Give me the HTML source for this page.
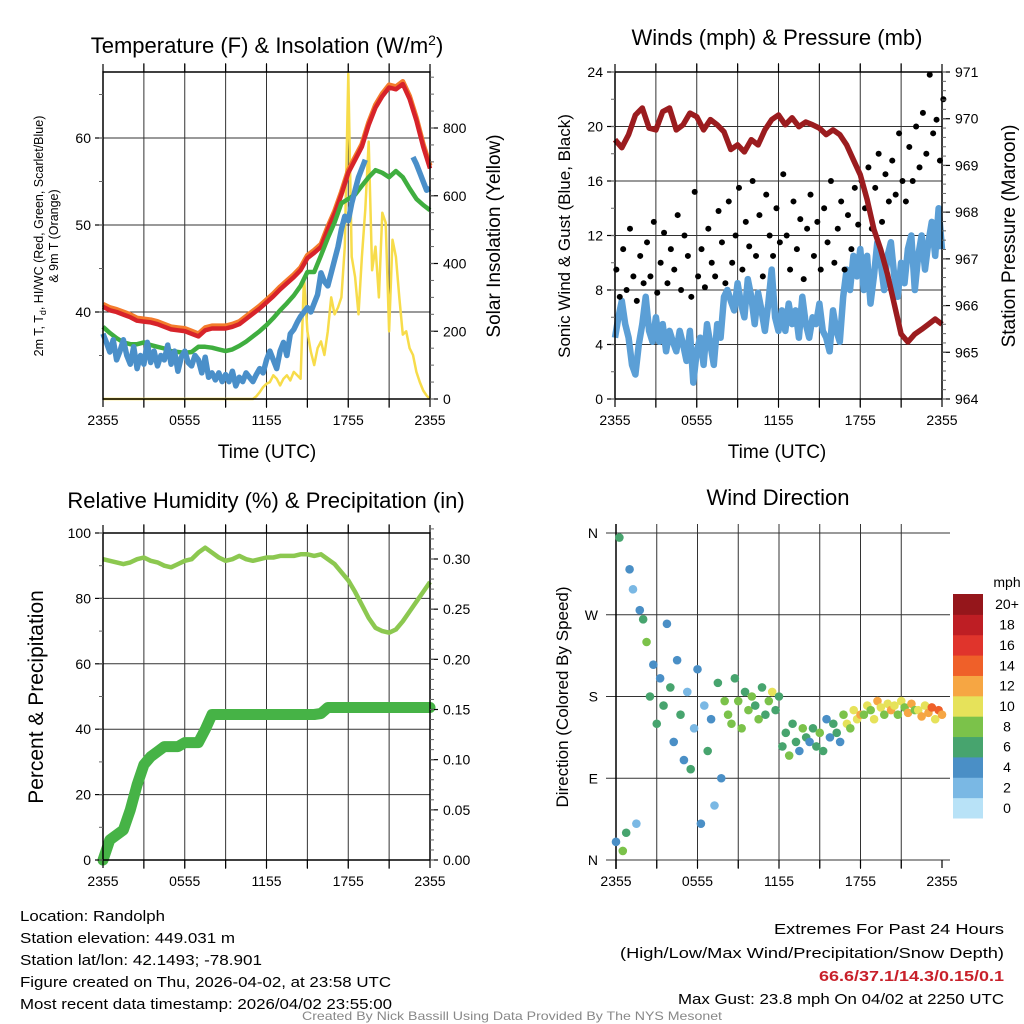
<!DOCTYPE html>
<html><head><meta charset="utf-8">
<style>
html,body{margin:0;padding:0;background:#fff;}
svg{display:block;font-family:"Liberation Sans",sans-serif;}
</style></head>
<body>
<svg id="chart" width="1024" height="1024" viewBox="0 0 1024 1024" xmlns="http://www.w3.org/2000/svg">
<rect width="1024" height="1024" fill="#fff"/>
<g id="layer"></g>
<text x="267" y="53" font-size="22" text-anchor="middle">Temperature (F) &amp; Insolation (W/m<tspan dy="-8" font-size="14">2</tspan><tspan dy="8">)</tspan></text>
<text x="777" y="45" font-size="22" text-anchor="middle">Winds (mph) &amp; Pressure (mb)</text>
<text x="266" y="508" font-size="22" text-anchor="middle">Relative Humidity (%) &amp; Precipitation (in)</text>
<text x="778" y="505" font-size="22" text-anchor="middle">Wind Direction</text>
<text transform="translate(43,236) rotate(-90)" font-size="12.5" text-anchor="middle">2m T, T<tspan font-size="9" dy="3">d</tspan><tspan dy="-3">, HI/WC (Red, Green, Scarlet/Blue)</tspan></text>
<text transform="translate(58,236) rotate(-90)" font-size="12.5" text-anchor="middle">&amp; 9m T (Orange)</text>
<text transform="translate(500,236) rotate(-90)" font-size="19" text-anchor="middle">Solar Insolation (Yellow)</text>
<text x="267" y="458" font-size="19" text-anchor="middle">Time (UTC)</text>
<text transform="translate(570,236) rotate(-90)" font-size="17" text-anchor="middle">Sonic Wind &amp; Gust (Blue, Black)</text>
<text transform="translate(1015,236) rotate(-90)" font-size="19" text-anchor="middle">Station Pressure (Maroon)</text>
<text x="777" y="458" font-size="19" text-anchor="middle">Time (UTC)</text>
<text transform="translate(43,697) rotate(-90)" font-size="21" text-anchor="middle">Percent &amp; Precipitation</text>
<text transform="translate(568,697) rotate(-90)" font-size="17" text-anchor="middle">Direction (Colored By Speed)</text>
<g font-size="15">
<text x="20" y="921" textLength="145" lengthAdjust="spacingAndGlyphs">Location: Randolph</text>
<text x="20" y="943" textLength="215" lengthAdjust="spacingAndGlyphs">Station elevation: 449.031 m</text>
<text x="20" y="965" textLength="242" lengthAdjust="spacingAndGlyphs">Station lat/lon: 42.1493; -78.901</text>
<text x="20" y="987" textLength="371" lengthAdjust="spacingAndGlyphs">Figure created on Thu, 2026-04-02, at 23:58 UTC</text>
<text x="20" y="1009" textLength="372" lengthAdjust="spacingAndGlyphs">Most recent data timestamp: 2026/04/02 23:55:00</text>
</g>
<g font-size="15" text-anchor="end">
<text x="1004" y="934" textLength="230" lengthAdjust="spacingAndGlyphs">Extremes For Past 24 Hours</text>
<text x="1004" y="958" textLength="384" lengthAdjust="spacingAndGlyphs">(High/Low/Max Wind/Precipitation/Snow Depth)</text>
<text x="1004" y="981" fill="#c8202a" font-weight="bold" textLength="185" lengthAdjust="spacingAndGlyphs">66.6/37.1/14.3/0.15/0.1</text>
<text x="1004" y="1004" textLength="326" lengthAdjust="spacingAndGlyphs">Max Gust: 23.8 mph On 04/02 at 2250 UTC</text>
</g>
<text x="512" y="1020" font-size="12" fill="#888" text-anchor="middle" textLength="420" lengthAdjust="spacingAndGlyphs">Created By Nick Bassill Using Data Provided By The NYS Mesonet</text>
</svg>
<script>
const timeLabels = ["2355","0555","1155","1755","2355"];
const tempRed = [40.6,40.2,40.0,39.7,39.4,39.0,38.9,38.8,38.6,38.3,38.0,37.9,37.8,37.5,37.2,37.9,38.1,38.1,38.1,38.3,38.6,39.2,39.8,40.4,41.1,41.8,42.6,43.3,44.0,44.8,46.2,46.8,47.5,49.5,51.3,53.5,56.0,57.5,59.0,61.5,63.5,64.8,65.8,65.6,66.2,64.5,62.0,59.0,56.5];
const tempOrange = [40.9,40.5,40.3,40.0,39.7,39.3,39.2,39.1,38.9,38.6,38.3,38.2,38.1,37.8,37.5,38.2,38.4,38.4,38.4,38.6,38.9,39.5,40.1,40.7,41.4,42.1,42.9,43.6,44.3,45.1,46.5,47.1,47.8,49.8,51.6,53.8,56.3,57.8,59.3,61.8,63.8,65.1,66.1,65.9,66.5,64.8,62.3,59.3,56.8];
const dewGreen = [38.3,37.6,37.0,36.5,36.3,36.3,36.5,36.2,36.0,35.8,35.5,35.4,35.3,35.4,36.0,36.0,35.9,35.7,35.5,35.7,36.1,36.6,37.2,37.8,38.5,39.3,40.2,41.0,41.9,43.0,44.6,44.6,46.5,48.5,50.3,52.5,53.0,53.5,54.5,55.5,56.3,56.0,55.5,56.2,55.5,54.2,53.0,52.3,51.7];
const windChill = [37.5,36.5,35.4,36.8,34.5,35.5,36.8,35.0,34.0,36.0,33.5,35.0,34.0,36.5,34.2,35.5,33.8,35.0,34.5,36.2,34.0,35.5,33.2,34.8,35.5,34.2,33.8,35.0,34.5,33.0,34.8,32.5,33.0,32.2,33.0,32.0,32.8,32.0,33.2,31.5,32.5,32.0,33.0,32.5,32.0,32.8,33.5,33.0,34.5,35.5,34.5,33.5,35.5,36.5,35.0,37.5,38.0,38.8,39.5,40.0,40.5,40.0,41.0,42.0,44.5,43.5,43.0,44.5,46.0,47.5,49.5,51.0,50.5,52.5,54.0,55.5,56.5,57.5,null,null,null,null,null,null,null,null,null,null,null,null,null,57.8,57.0,56.0,55.0,54.0,54.2];
const insolation = [0,0,0,0,0,0,0,0,0,0,0,0,0,0,0,0,0,0,0,0,0,0,0,0,0,0,0,0,0,0,0,0,0,0,0,0,0,0,0,0,0,0,0,0,0,8,20,35,45,50,70,60,40,60,70,55,80,70,60,360,200,140,100,150,170,130,200,300,250,270,300,450,960,420,360,250,420,560,760,380,450,300,550,520,200,470,420,300,190,200,150,130,80,50,25,10,0];
const tempTicks = [40,50,60];
const insolTicks = [0,200,400,600,800];
const windSpeed = [4.5,6.0,7.2,5.5,4.5,2.5,1.8,4.0,5.5,7.5,5.0,4.2,6.0,4.2,5.5,3.5,5.0,4.2,3.5,5.0,4.0,2.8,5.0,1.2,3.5,4.5,2.5,5.5,4.0,2.5,5.5,4.5,7.5,8.0,7.2,6.5,8.5,7.0,6.0,8.8,7.5,5.5,7.8,6.5,5.0,7.0,9.5,6.0,5.0,6.5,5.0,7.0,5.5,6.5,4.5,7.5,5.5,4.5,6.0,5.5,7.0,5.0,4.5,3.5,6.5,5.0,4.2,7.5,9.5,8.0,10.5,9.0,11.0,8.0,10.5,7.0,9.0,11.5,10.0,8.0,10.5,11.5,9.0,7.5,10.0,8.5,11.0,12.0,8.0,10.5,12.0,9.5,11.5,13.0,10.5,14.0,11.0];
const windGust = [9.5,7.5,11.0,8.0,12.5,9.0,7.2,10.5,8.5,11.5,9.0,13.0,7.8,10.0,12.2,8.5,11.0,9.5,13.5,8.0,12.0,10.5,7.5,15.2,9.0,11.0,8.2,12.5,10.0,9.0,13.8,11.5,8.5,14.5,10.0,12.0,15.5,9.5,13.0,11.2,16.0,10.5,13.5,9.0,15.0,12.0,10.5,14.0,11.5,16.5,12.0,9.5,14.5,11.0,13.2,8.8,12.5,15.0,10.5,13.0,9.5,14.0,11.5,16.0,10.0,12.5,14.5,9.5,13.5,11.0,15.5,12.8,16.0,14.0,17.0,12.5,15.5,18.0,13.0,16.5,14.5,17.5,15.0,19.5,16.0,14.5,18.5,16.0,20.0,17.0,21.0,18.0,23.8,19.5,20.5,17.5,22.0];
const pressure = [969.55,969.38,969.66,970.08,970.23,969.80,969.76,970.15,970.23,969.76,969.87,970.12,970.04,969.76,969.98,969.87,969.72,969.34,969.44,969.29,969.55,969.44,969.76,969.98,970.08,969.87,970.02,969.83,969.93,969.87,969.80,969.66,969.76,969.66,969.44,969.12,968.80,968.27,967.63,967.20,966.67,966.03,965.39,965.22,965.39,965.49,965.60,965.71,965.60];
const windTicks = [0,4,8,12,16,20,24];
const pressTicks = [964,965,966,967,968,969,970,971];
const relHum = [92,91.5,91,90.5,91,92,92.5,91.5,91,90,89.5,90.5,91.5,92,94,95.5,94,92.5,91.5,92,93,92,91.5,92,92.5,92.5,93,93,93,93.5,93.5,93,93.5,92,90.5,88,85.5,82,78,74,71,70,69.5,70.5,73,76,79,82,85];
const precip = [0,0.02,0.025,0.03,0.05,0.075,0.095,0.103,0.108,0.113,0.113,0.113,0.117,0.117,0.117,0.13,0.145,0.145,0.145,0.145,0.145,0.145,0.145,0.145,0.145,0.145,0.145,0.145,0.145,0.145,0.145,0.145,0.146,0.152,0.152,0.152,0.152,0.152,0.152,0.152,0.152,0.152,0.152,0.152,0.152,0.152,0.152,0.152,0.152];
const rhTicks = [0,20,40,60,80,100];
const precipTicks = [0,0.05,0.10,0.15,0.20,0.25,0.30];
const windDir = [20,355,10,30,320,298,40,275,265,240,180,215,150,200,170,260,190,130,220,160,110,185,100,145,210,40,170,120,155,60,195,90,175,160,150,200,175,145,185,165,180,170,155,190,160,175,185,165,180,125,140,115,150,130,120,145,135,130,145,125,140,120,155,135,150,140,130,160,150,145,165,155,160,160,170,165,155,175,168,160,172,165,170,160,175,168,162,172,165,165,158,170,162,168,155,165,160];
const dirLabels = ["N","E","S","W","N"];
const dirTicks = [0,90,180,270,360];
const speedLabels = ["0","2","4","6","8","10","12","14","16","18","20+"];
const speedColors = ["#b8e2f7","#7ab8e4","#4a8fc6","#47a46e","#7bc24a","#e6e25a","#f6a643","#ef6029","#e0342c","#be1e24","#95161b"];

const NS = "http://www.w3.org/2000/svg";
const layer = document.getElementById("layer");
function el(tag, attrs, parent){
  const e = document.createElementNS(NS, tag);
  for (const k in attrs) e.setAttribute(k, attrs[k]);
  (parent || layer).appendChild(e);
  return e;
}
function linScale(d0,d1,r0,r1){ return v => r0 + (v-d0)/(d1-d0)*(r1-r0); }
function linePath(arr, step, xs, ys){
  let d = "", pen = false;
  arr.forEach((v,i)=>{
    if (v === null){ pen = false; return; }
    d += (pen ? "L" : "M") + xs(i*step).toFixed(1) + "," + ys(v).toFixed(1);
    pen = true;
  });
  return d;
}
function grid(P, yVals, ys, name){
  const g = el("g", {stroke:"#333","stroke-width":"1"});
  
  
  for (let h=3; h<24; h+=3){
    const x = P.xs(h);
    const l = el("line", {x1:x,x2:x,y1:P.y0-9,y2:P.y1+9}, g);
    
    
  }
  yVals.forEach(v=>{
    const y = ys(v);
    const l = el("line", {x1:P.x0-(P.noBox?10:0),x2:P.x1+(P.noBox?8:0),y1:y,y2:y}, g);
    
    
  });
}
function frame(P, name){
  if (!P.noBox){
    const r = el("rect", {x:P.x0,y:P.y0,width:P.x1-P.x0,height:P.y1-P.y0,fill:"none",stroke:"#000","stroke-width":"1.5"});
    
    
  } else {
    const l = el("line", {x1:P.x0,x2:P.x0,y1:P.y0-9,y2:P.y1+9,stroke:"#000","stroke-width":"1.5"});
    
    
  }
  for (let h=0; h<=24; h+=3){
    const x = P.xs(h);
    el("line", {x1:x,x2:x,y1:P.y1,y2:P.y1+8,stroke:"#000","stroke-width":"1.2"});
    if (!P.noBox) el("line", {x1:x,x2:x,y1:P.y0-8,y2:P.y0,stroke:"#000","stroke-width":"1.2"});
  }
  timeLabels.forEach((s,i)=>{
    const t = el("text", {x:P.xs(i*6),y:P.y1+26,"font-size":"14","text-anchor":"middle"});
    t.textContent = s;
    
    
  });
}
function leftAxis(P, vals, ys, fmt, minor){
  vals.forEach(v=>{
    const y = ys(v);
    el("line", {x1:P.x0-8,x2:P.x0,y1:y,y2:y,stroke:"#000","stroke-width":"1.2"});
    const t = el("text", {x:P.x0-12,y:y+5,"font-size":"14","text-anchor":"end"});
    t.textContent = fmt(v);
    
    
  });
  (minor||[]).forEach(v=>{ const y=ys(v); el("line",{x1:P.x0-4,x2:P.x0,y1:y,y2:y,stroke:"#666","stroke-width":"1"}); });
}
function rightAxis(P, vals, ys, fmt, minor){
  vals.forEach(v=>{
    const y = ys(v);
    el("line", {x1:P.x1,x2:P.x1+8,y1:y,y2:y,stroke:"#000","stroke-width":"1.2"});
    const t = el("text", {x:P.x1+13,y:y+5,"font-size":"14","text-anchor":"start"});
    t.textContent = fmt(v);
    
    
  });
  (minor||[]).forEach(v=>{ const y=ys(v); el("line",{x1:P.x1,x2:P.x1+4,y1:y,y2:y,stroke:"#666","stroke-width":"1"}); });
}
function range(a,b,s){ const r=[]; for(let v=a; v<=b+1e-9; v+=s) r.push(+v.toFixed(4)); return r; }

const P1 = {x0:103,x1:430,y0:72,y1:399};
P1.xs = linScale(0,24,P1.x0,P1.x1);
const yT = linScale(30,60,399,138);
const yI = linScale(0,800,399,128);
grid(P1, tempTicks, yT, 'temperature');
let p;
p = el("path",{d:linePath(insolation,0.25,P1.xs,yI),fill:"none",stroke:"#f7dc4a","stroke-width":"2.5","stroke-linejoin":"round"});


p = el("path",{d:linePath(tempOrange,0.5,P1.xs,yT),fill:"none",stroke:"#f47c2c","stroke-width":"5","stroke-linejoin":"round"});


p = el("path",{d:linePath(tempRed,0.5,P1.xs,yT),fill:"none",stroke:"#d7232a","stroke-width":"4.5","stroke-linejoin":"round"});


p = el("path",{d:linePath(dewGreen,0.5,P1.xs,yT),fill:"none",stroke:"#3fae3f","stroke-width":"4.5","stroke-linejoin":"round"});


p = el("path",{d:linePath(windChill,0.25,P1.xs,yT),fill:"none",stroke:"#4a8fc9","stroke-width":"5.5","stroke-linejoin":"round"});


frame(P1,'temperature');
leftAxis(P1, tempTicks, yT, v=>String(v), range(35,65,5));
rightAxis(P1, insolTicks, yI, v=>String(v), range(0,950,50));

const P2 = {x0:615,x1:942,y0:72,y1:399};
P2.xs = linScale(0,24,P2.x0,P2.x1);
const yW = linScale(0,24,399,72);
const yP = linScale(964,971,399,72);
grid(P2, windTicks.slice(1,-1), yW, 'winds');
p = el("path",{d:linePath(windSpeed,0.25,P2.xs,yW),fill:"none",stroke:"#5b9fd6","stroke-width":"6.5","stroke-linejoin":"round"});


windGust.forEach((v,i)=>{
  const c = el("circle",{cx:P2.xs(i*0.25+0.1),cy:yW(v),r:"3",fill:"#000"});
  
  
});
p = el("path",{d:linePath(pressure,0.5,P2.xs,yP),fill:"none",stroke:"#9b1c1f","stroke-width":"5.5","stroke-linejoin":"round"});


frame(P2,'winds');
leftAxis(P2, windTicks, yW, v=>String(v), range(0,24,2));
rightAxis(P2, pressTicks, yP, v=>String(v), range(964,971,0.2));

const P3 = {x0:103,x1:430,y0:533,y1:860};
P3.xs = linScale(0,24,P3.x0,P3.x1);
const yR = linScale(0,100,860,533);
const yQ = linScale(0,0.30,860,559);
grid(P3, rhTicks.slice(1,-1), yR, 'humidity');
p = el("path",{d:linePath(relHum,0.5,P3.xs,yR),fill:"none",stroke:"#8cc850","stroke-width":"4.5","stroke-linejoin":"round"});


p = el("path",{d:linePath(precip,0.5,P3.xs,yQ),fill:"none",stroke:"#46b346","stroke-width":"11","stroke-linejoin":"round","stroke-linecap":"round"});


frame(P3,'humidity');
leftAxis(P3, rhTicks, yR, v=>String(v), range(0,100,10));
rightAxis(P3, precipTicks, yQ, v=>v.toFixed(2), range(0,0.33,0.01));

const P4 = {x0:616,x1:942,y0:533,y1:860,noBox:true};
P4.xs = linScale(0,24,P4.x0,P4.x1);
const yD = linScale(0,360,860,533);
grid(P4, dirTicks, yD, 'direction');
frame(P4,'direction');
dirTicks.forEach((v,i)=>{
  const t = el("text",{x:P4.x0-18,y:yD(v)+5,"font-size":"14","text-anchor":"end"});
  t.textContent = dirLabels[i];
  
  
});
function speedColor(s){ return speedColors[Math.max(0,Math.min(10,Math.round(s/2)))]; }
windDir.forEach((d,i)=>{
  const c = el("circle",{cx:P4.xs(i*0.25),cy:yD(d),r:"4.3",fill:speedColor(windSpeed[i])});
  
  
});
const cb = el("g",{});


const cbTop = 594, cbH = 224/11;
speedLabels.forEach((lab,i)=>{
  const y = cbTop + (10-i)*cbH;
  const r = el("rect",{x:953,y:y,width:30,height:cbH+0.5,fill:speedColors[i]},cb);
  
  
  const t = el("text",{x:1007,y:y+cbH/2+5,"font-size":"14","text-anchor":"middle"},cb);
  t.textContent = lab;
  
  
});
const mu = el("text",{x:1007,y:587,"font-size":"14","text-anchor":"middle"},cb);
mu.textContent = "mph";


</script>
</body></html>
